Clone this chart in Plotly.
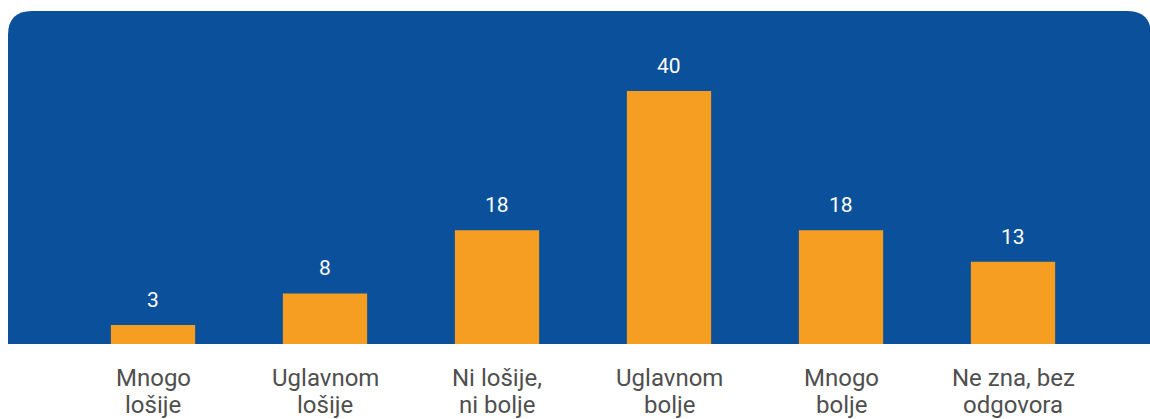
import plotly.graph_objects as go

categories = ["Mnogo lošije", "Uglavnom lošije", "Ni lošije, ni bolje",
              "Uglavnom bolje", "Mnogo bolje", "Ne zna, bez odgovora"]
label_line1 = ["Mnogo", "Uglavnom", "Ni lošije,", "Uglavnom", "Mnogo", "Ne zna, bez"]
label_line2 = ["lošije", "lošije", "ni bolje", "bolje", "bolje", "odgovora"]
values = [3, 8, 18, 40, 18, 13]

W, H = 1150, 419
ml, mr, mt, mb = 67, 51, 11, 75
pw = W - ml - mr
ph = H - mt - mb

BLUE = "#0a509b"
ORANGE = "#f59e22"
GREY = "#4f4f4f"

def px_x(p):
    return (p - ml) / pw

def px_y(p):
    return (H - mb - p) / ph

# rounded rectangle background (figure pixels -> paper)
x0, x1, y0, y1, r = 8, 1151, 11, 344, 24
path = (
    f"M {px_x(x0)},{px_y(y1)} "
    f"L {px_x(x0)},{px_y(y0 + r)} "
    f"Q {px_x(x0)},{px_y(y0)} {px_x(x0 + r)},{px_y(y0)} "
    f"L {px_x(x1 - r)},{px_y(y0)} "
    f"Q {px_x(x1)},{px_y(y0)} {px_x(x1)},{px_y(y0 + r)} "
    f"L {px_x(x1)},{px_y(y1)} Z"
)

fig = go.Figure()
fig.add_trace(go.Bar(x=categories, y=values, marker_color=ORANGE,
                     marker_line_width=0, width=0.49, hoverinfo="skip"))

annotations = []
for c, v in zip(categories, values):
    annotations.append(dict(x=c, y=v, xref="x", yref="y", text=str(v),
                            showarrow=False, yanchor="middle", yshift=25,
                            font=dict(color="white", size=21, family="Roboto")))
for c, l1, l2 in zip(categories, label_line1, label_line2):
    annotations.append(dict(x=c, y=0, xref="x", yref="y", text=l1,
                            showarrow=False, yanchor="middle", yshift=-34,
                            font=dict(color=GREY, size=24, family="Roboto")))
    annotations.append(dict(x=c, y=0, xref="x", yref="y", text=l2,
                            showarrow=False, yanchor="middle", yshift=-61,
                            font=dict(color=GREY, size=24, family="Roboto")))

fig.update_layout(
    width=W, height=H,
    margin=dict(l=ml, r=mr, t=mt, b=mb),
    paper_bgcolor="white", plot_bgcolor="rgba(0,0,0,0)",
    showlegend=False,
    shapes=[dict(type="path", path=path, xref="paper", yref="paper",
                 fillcolor=BLUE, line=dict(width=0), layer="below")],
    annotations=annotations,
    font=dict(family="Roboto"),
)
fig.update_xaxes(showgrid=False, showline=False, zeroline=False,
                 showticklabels=False, range=[-0.5, 5.5])
fig.update_yaxes(visible=False, range=[0, 333 / 6.325])
fig.write_html(
    "out.html",
    config={"displayModeBar": False},
    post_script=(
        "document.body.style.margin='0';"
        "document.body.style.overflow='hidden';"
        "document.documentElement.style.overflow='hidden';"
    ),
)
